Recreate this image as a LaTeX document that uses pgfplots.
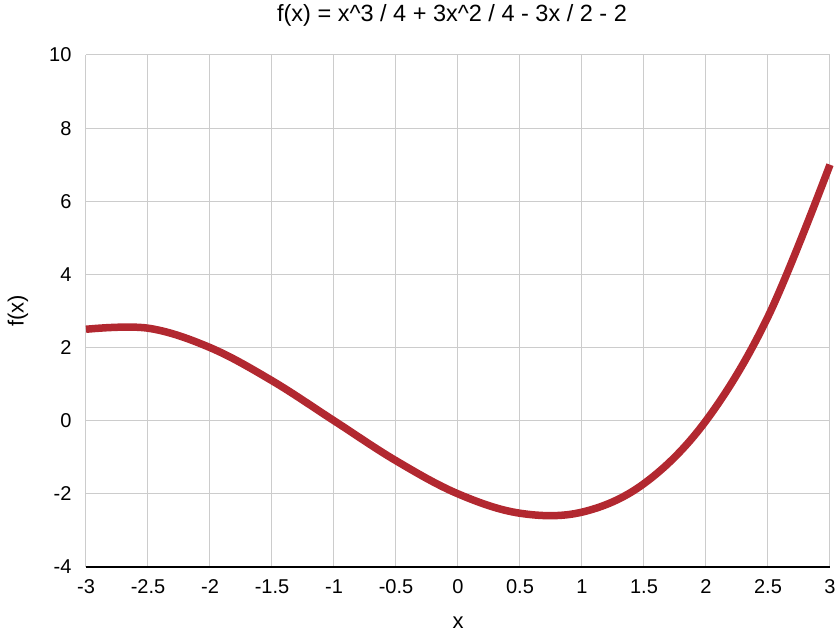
\documentclass[border=0pt]{standalone}
\usepackage{fontspec}
\setmainfont{Liberation Sans}
\usepackage{pgfplots}
\pgfplotsset{compat=1.18}

\definecolor{curvered}{RGB}{178,40,48}
\definecolor{gridgray}{RGB}{204,204,204}

\begin{document}
\begin{tikzpicture}
\begin{axis}[
    at={(0pt,0pt)}, anchor=south west,
    scale only axis,
    width=744pt, height=512pt,
    xmin=-3, xmax=3,
    ymin=-4, ymax=10,
    xtick={-3,-2.5,...,3},
    ytick={-4,-2,...,10},
    xticklabels={-3,-2.5,-2,-1.5,-1,-0.5,0,0.5,1,1.5,2,2.5,3},
    yticklabels={-4,-2,0,2,4,6,8,10},
    grid=major,
    major grid style={gridgray, line width=1pt},
    axis line style={draw=none},
    tick style={draw=none},
    ticklabel style={font=\fontsize{20}{22}\selectfont},
    xticklabel style={yshift=-9pt},
    yticklabel style={xshift=-11pt},
    clip=false,
]
% data values
\addplot[curvered, line width=7.5pt, smooth, tension=0.6] coordinates {
    (-3,2.5) (-2.5,2.53) (-2,2) (-1.5,1.094) (-1,0)
    (-0.5,-1.094) (0,-2) (0.5,-2.53) (1,-2.5)
    (1.5,-1.72) (2,0) (2.5,2.844) (3,7)
};
% bottom axis line
\draw[black, line width=2pt] (axis cs:-3,-4) -- (axis cs:3,-4);
\end{axis}
\node[font=\fontsize{23.5}{26}\selectfont] at (366pt,552pt) {f(x) = x\textasciicircum3 / 4 + 3x\textasciicircum2 / 4 - 3x / 2 - 2};
\node[font=\fontsize{22}{24}\selectfont] at (372pt,-56pt) {x};
\node[font=\fontsize{22}{24}\selectfont, rotate=90] at (-68pt,256pt) {f(x)};
\pgfresetboundingbox
\useasboundingbox (-86pt,-72pt) rectangle (750pt,567pt);
\end{tikzpicture}
\end{document}
